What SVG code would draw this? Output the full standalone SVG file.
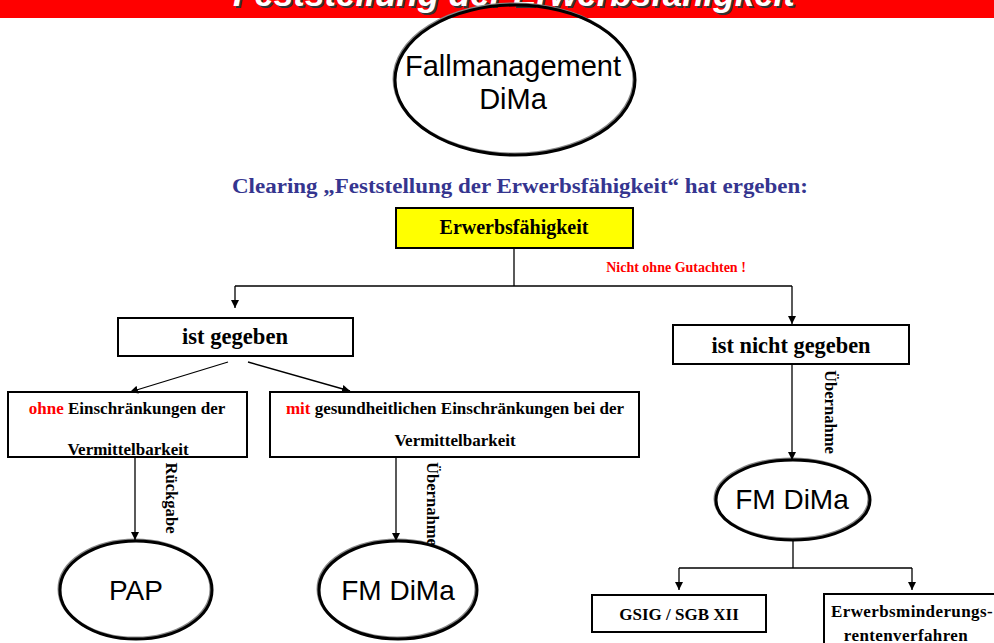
<svg xmlns="http://www.w3.org/2000/svg" width="994" height="643" viewBox="0 0 994 643">
<defs>
<marker id="arr" viewBox="0 0 10 10" refX="10" refY="5" markerWidth="8" markerHeight="8" markerUnits="userSpaceOnUse" orient="auto">
<path d="M0,0 L10,5 L0,10 z" fill="#000"/>
</marker>
<style>
.box{fill:#fff;stroke:#000;stroke-width:2}
.tb{font-family:"Liberation Serif","Times New Roman",serif;font-weight:bold;fill:#000}
.ta{font-family:"Liberation Sans",Arial,sans-serif;fill:#000}
.ell{fill:none;stroke:#000;stroke-width:3}
.shd{fill:none;stroke:#888;stroke-width:3}
.con{fill:none;stroke:#000;stroke-width:1.3}
.red{fill:#ff0000}
</style>
</defs>
<rect x="0" y="0" width="994" height="643" fill="#fff"/>
<g id="title">
<rect x="0" y="0" width="994" height="18" fill="#ff0000"/>
<text x="516" y="8" text-anchor="middle" font-family="Liberation Sans, Arial, sans-serif" font-weight="bold" font-style="italic" font-size="35" fill="#333" textLength="562" lengthAdjust="spacingAndGlyphs">Feststellung der Erwerbsfähigkeit</text>
<text x="514" y="6" text-anchor="middle" font-family="Liberation Sans, Arial, sans-serif" font-weight="bold" font-style="italic" font-size="35" fill="#fff" textLength="562" lengthAdjust="spacingAndGlyphs">Feststellung der Erwerbsfähigkeit</text>
</g>
<g id="n_fallmanagement">
<ellipse class="shd" cx="514" cy="79" rx="120" ry="75"/>
<ellipse class="ell" cx="515" cy="80" rx="120" ry="75"/>
<text class="ta" x="513" y="76" text-anchor="middle" font-size="29" textLength="216" lengthAdjust="spacingAndGlyphs">Fallmanagement</text>
<text class="ta" x="513" y="109" text-anchor="middle" font-size="29">DiMa</text>
</g>
<g id="subtitle">
<text x="520" y="193" text-anchor="middle" font-family="Liberation Serif, Times New Roman, serif" font-weight="bold" font-size="20" fill="#35358f" textLength="576" lengthAdjust="spacingAndGlyphs">Clearing „Feststellung der Erwerbsfähigkeit“ hat ergeben:</text>
</g>
<g id="n_erwerbsfaehigkeit">
<rect x="396" y="208" width="237" height="40" fill="#ffff00" stroke="#000" stroke-width="2"/>
<text class="tb" x="514" y="234" text-anchor="middle" font-size="20">Erwerbsfähigkeit</text>
</g>
<g id="n_ist_gegeben">
<rect class="box" x="118" y="318" width="235" height="38"/>
<text class="tb" x="235" y="344" text-anchor="middle" font-size="23" textLength="106" lengthAdjust="spacingAndGlyphs">ist gegeben</text>
</g>
<g id="n_ist_nicht_gegeben">
<rect class="box" x="673" y="325" width="236" height="39"/>
<text class="tb" x="791" y="353" text-anchor="middle" font-size="23" textLength="159" lengthAdjust="spacingAndGlyphs">ist nicht gegeben</text>
</g>
<g id="n_ohne">
<rect class="box" x="8" y="392" width="239" height="65"/>
<text class="tb" x="127" y="414" text-anchor="middle" font-size="17"><tspan fill="#ff0000">ohne</tspan> Einschränkungen der</text>
<text class="tb" x="128" y="455" text-anchor="middle" font-size="17">Vermittelbarkeit</text>
</g>
<g id="n_mit">
<rect class="box" x="270" y="392" width="369" height="65"/>
<text class="tb" x="455" y="414" text-anchor="middle" font-size="17"><tspan fill="#ff0000">mit</tspan> gesundheitlichen Einschränkungen bei der</text>
<text class="tb" x="455" y="446" text-anchor="middle" font-size="17">Vermittelbarkeit</text>
</g>
<g id="n_pap">
<ellipse class="shd" cx="135" cy="589" rx="76" ry="49"/>
<ellipse class="ell" cx="136" cy="590" rx="76" ry="49"/>
<text class="ta" x="136" y="600" text-anchor="middle" font-size="28">PAP</text>
</g>
<g id="n_fmdima1">
<ellipse class="shd" cx="397" cy="589" rx="79" ry="49"/>
<ellipse class="ell" cx="398" cy="590" rx="79" ry="49"/>
<text class="ta" x="398" y="600" text-anchor="middle" font-size="28">FM DiMa</text>
</g>
<g id="n_fmdima2">
<ellipse class="shd" cx="792" cy="499" rx="77" ry="40"/>
<ellipse class="ell" cx="793" cy="500" rx="77" ry="40"/>
<text class="ta" x="792" y="509" text-anchor="middle" font-size="28">FM DiMa</text>
</g>
<g id="n_gsig">
<rect class="box" x="592" y="595" width="174" height="37"/>
<text class="tb" x="679" y="620" text-anchor="middle" font-size="17">GSIG / SGB XII</text>
</g>
<g id="n_erwerbsminderung">
<rect class="box" x="824" y="594" width="180" height="60"/>
<text class="tb" x="912" y="617" text-anchor="middle" font-size="17" letter-spacing="0.4">Erwerbsminderungs-</text>
<text class="tb" x="906" y="641" text-anchor="middle" font-size="17" letter-spacing="0.4">rentenverfahren</text>
</g>
<g id="connectors">
<polyline class="con" points="514,248 514,286"/>
<polyline class="con" points="235,286 792,286"/>
<line class="con" x1="235" y1="286" x2="235" y2="308" marker-end="url(#arr)"/>
<line class="con" x1="792" y1="286" x2="792" y2="324" marker-end="url(#arr)"/>
<line class="con" x1="228" y1="362" x2="130" y2="392" marker-end="url(#arr)"/>
<line class="con" x1="248" y1="362" x2="350" y2="391" marker-end="url(#arr)"/>
<line class="con" x1="135" y1="457" x2="135" y2="540" marker-end="url(#arr)"/>
<line class="con" x1="396" y1="457" x2="396" y2="541" marker-end="url(#arr)"/>
<line class="con" x1="792" y1="364" x2="792" y2="460" marker-end="url(#arr)"/>
<polyline class="con" points="793,540 793,568"/>
<polyline class="con" points="679,568 912,568"/>
<line class="con" x1="679" y1="568" x2="679" y2="590" marker-end="url(#arr)"/>
<line class="con" x1="912" y1="568" x2="912" y2="590" marker-end="url(#arr)"/>
<text class="red" x="676" y="272" text-anchor="middle" font-family="Liberation Serif, Times New Roman, serif" font-weight="bold" font-size="14">Nicht ohne Gutachten !</text>
<text class="tb" transform="translate(166,498) rotate(90)" text-anchor="middle" font-size="16" textLength="71" lengthAdjust="spacingAndGlyphs">Rückgabe</text>
<text class="tb" transform="translate(427,504) rotate(90)" text-anchor="middle" font-size="16" textLength="84" lengthAdjust="spacingAndGlyphs">Übernahme</text>
<text class="tb" transform="translate(825,412) rotate(90)" text-anchor="middle" font-size="16" textLength="84" lengthAdjust="spacingAndGlyphs">Übernahme</text>
</g>
</svg>
